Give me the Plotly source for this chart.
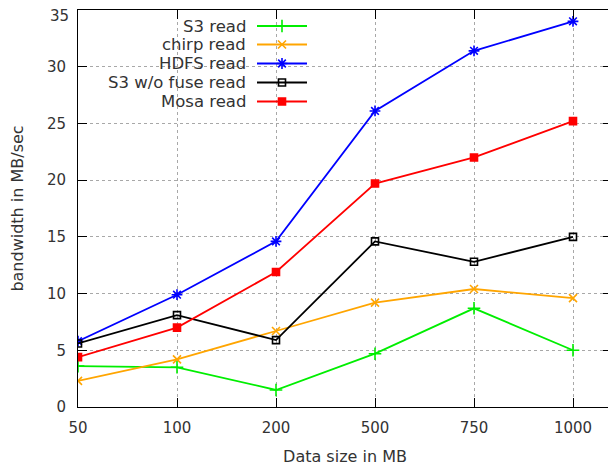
import plotly.graph_objects as go

categories = ["50", "100", "200", "500", "750", "1000"]
s3_read = [3.6, 3.5, 1.5, 4.7, 8.7, 5.0]
chirp_read = [2.3, 4.2, 6.7, 9.2, 10.4, 9.6]
hdfs_read = [5.8, 9.9, 14.6, 26.1, 31.4, 34.0]
s3_nofuse_read = [5.6, 8.1, 5.9, 14.6, 12.8, 15.0]
mosa_read = [4.4, 7.0, 11.9, 19.7, 22.0, 25.2]
y_ticks = [0, 5, 10, 15, 20, 25, 30, 35]
y_tick_labels = ["0", "5", "10", "15", "20", "25", "30", "35"]

series = [
    ("S3 read", s3_read, "#00ee00", "cross-thin-open", 9),
    ("chirp read", chirp_read, "#ffa500", "x-thin-open", 8),
    ("HDFS read", hdfs_read, "#0000ff", "asterisk-open", 9),
    ("S3 w/o fuse read", s3_nofuse_read, "#000000", "square-open", 7),
    ("Mosa read", mosa_read, "#ff0000", "square", 7),
]

W, H = 616, 468
OFF = 8  # page body margin offset
# plot area in page pixels, converted to figure pixels
L, R, T, B = 78 - OFF, 612 - OFF, 10 - OFF, 407 - OFF
FONT = "DejaVu Sans"
TXT = "#333333"

fig = go.Figure()
for name, vals, color, sym, sz in series:
    fig.add_trace(go.Scatter(
        x=categories, y=vals, mode="lines+markers", name=name,
        line=dict(color=color, width=1.8),
        marker=dict(symbol=sym, size=sz, color=color,
                    line=dict(color=color, width=1.6)),
        showlegend=False, xaxis="x", yaxis="y"))

# placeholder so the label-only overlay axis gets drawn
fig.add_trace(go.Scatter(x=[categories[0]], y=[None], mode="markers",
                         showlegend=False, hoverinfo="skip",
                         xaxis="x", yaxis="y3"))

# legend samples on an overlay axis in figure-pixel coordinates
leg_y = [26 - OFF, 44.5 - OFF, 63.5 - OFF, 82.5 - OFF, 101.5 - OFF]
for (name, vals, color, sym, sz), ly in zip(series, leg_y):
    fig.add_trace(go.Scatter(
        x=[257 - OFF, 307 - OFF], y=[ly, ly], mode="lines",
        line=dict(color=color, width=1.8),
        showlegend=False, xaxis="x2", yaxis="y2", hoverinfo="skip"))
    fig.add_trace(go.Scatter(
        x=[282 - OFF], y=[ly], mode="markers",
        marker=dict(symbol=sym, size=sz, color=color,
                    line=dict(color=color, width=1.6)),
        showlegend=False, xaxis="x2", yaxis="y2", hoverinfo="skip"))
    fig.add_annotation(x=248 - OFF, y=ly, xref="x2", yref="y2", text=name,
                       showarrow=False, xanchor="right", yanchor="middle",
                       font=dict(family=FONT, size=16.5, color=TXT))

fig.add_shape(type="rect", xref="paper", yref="paper",
              x0=1 / (R - L), x1=(316 - 78) / (R - L),
              y0=(407 - 111) / (B - T), y1=(407 - 11) / (B - T),
              fillcolor="white", line=dict(width=0), layer="between")

axis_common = dict(showline=True, linecolor="black", linewidth=1,
                   ticks="inside", ticklen=9, tickcolor="black", mirror="ticks",
                   showgrid=True, gridcolor="#a8a8a8", griddash="dot", gridwidth=1,
                   zeroline=False, automargin=False, ticklabeloverflow="allow",
                   tickfont=dict(family=FONT, size=15, color=TXT))

# top label drawn on a label-only overlay axis, nudged down to stay inside the page
main_labels = y_tick_labels[:-1] + [""]

fig.update_layout(
    width=W, height=H,
    margin=dict(l=L, r=W - R, t=T, b=H - B, pad=0),
    plot_bgcolor="white", paper_bgcolor="white",
    xaxis=dict(type="category", categoryorder="array", categoryarray=categories,
               range=[0, (R - L) / 99.0], ticklabelstandoff=7,
               title=dict(text="Data size in MB", standoff=14,
                          font=dict(family=FONT, size=16, color=TXT)),
               **axis_common),
    yaxis=dict(range=[0, 35], tickvals=y_ticks, ticktext=main_labels,
               ticklabelstandoff=8,
               title=dict(text="bandwidth in MB/sec", standoff=20,
                          font=dict(family=FONT, size=16, color=TXT)),
               **axis_common),
    yaxis3=dict(range=[0, 35], overlaying="y", anchor="x", side="left",
                tickmode="array", tickvals=[y_ticks[-1]],
                ticktext=[y_tick_labels[-1]],
                ticks="", showline=False, showgrid=False, zeroline=False,
                automargin=False, ticklabeloverflow="allow",
                ticklabelstandoff=8, ticklabelshift=6, fixedrange=True,
                tickfont=dict(family=FONT, size=15, color=TXT)),
    xaxis2=dict(range=[L, R], overlaying="x", visible=False, fixedrange=True),
    yaxis2=dict(range=[B, T], overlaying="y", visible=False, fixedrange=True),
)

fig.write_html("out.html")
